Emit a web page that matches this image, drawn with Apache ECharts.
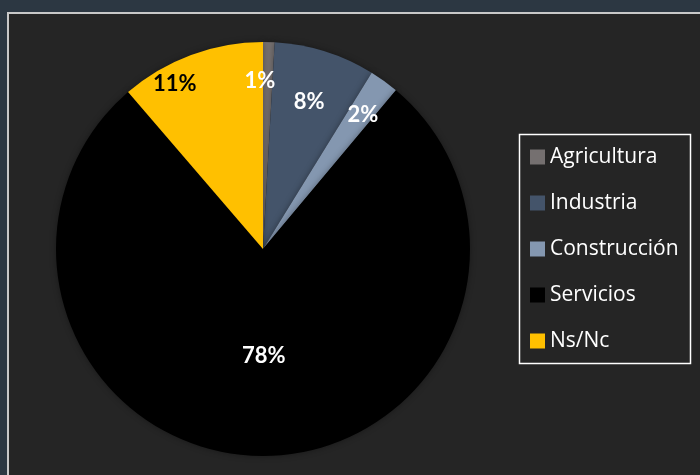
<!DOCTYPE html>
<html>
<head>
<meta charset="utf-8">
<script src="https://cdn.jsdelivr.net/npm/echarts@6/dist/echarts.min.js"></script>
<style>
  html, body { margin: 0; padding: 0; background: #2c3742; }
  #chart { width: 700px; height: 475px; }
</style>
</head>
<body>
<div id="chart"></div>
<script>
// Sectores de actividad
const categories = ['Agricultura', 'Industria', 'Construcción', 'Servicios', 'Ns/Nc'];
const shares = [0.9, 7.9, 2.3, 77.6, 11.3];
const colors = ['#757070', '#44546a', '#8497b0', '#000000', '#ffc000'];
const labelColors = ['#ffffff', '#ffffff', '#ffffff', '#ffffff', '#000000'];
// small nudges for the edge labels, in pixels
const labelNudge = [[-8, 2], [-5, 16], [0, 4], [0, 0], [-29, -5]];

const FONT = 'Lato, "Noto Sans", sans-serif';
const LEGEND_FONT = '"Open Sans", Lato, sans-serif';
const CENTER = [263, 249];
const R = 207;

const pct = p => Math.round(p.percent) + '%';
const labelBase = { fontFamily: FONT, fontSize: 22, fontWeight: 'bold' };

// Main pie: fills, with the large slice labelled at mid radius
const mainData = categories.map((name, i) => ({
  name,
  value: shares[i],
  itemStyle: { color: colors[i] },
  label: {
    show: name === 'Servicios',
    position: 'inside',
    color: labelColors[i],
    ...labelBase,
    formatter: pct
  }
}));

// Transparent ring: places the small-slice labels near the outer edge
const ringData = categories.map((name, i) => ({
  name,
  value: shares[i],
  itemStyle: { color: 'rgba(0,0,0,0)' },
  label: {
    show: name !== 'Servicios',
    position: 'inside',
    color: labelColors[i],
    ...labelBase,
    formatter: pct
  }
}));

const chart = echarts.init(document.getElementById('chart'), null, { renderer: 'canvas' });
chart.setOption({
  backgroundColor: '#2c3742',
  animation: false,
  graphic: [
    {
      type: 'rect',
      z: -10,
      shape: { x: 8, y: 13, width: 720, height: 500 },
      style: { fill: '#252525', stroke: '#c8c8c8', lineWidth: 2 }
    },
    {
      type: 'rect',
      z: -5,
      shape: { x: 519.5, y: 134.5, width: 171, height: 229 },
      style: { fill: 'none', stroke: '#ffffff', lineWidth: 1.5 }
    }
  ],
  legend: {
    orient: 'vertical',
    left: 519,
    top: 134,
    padding: [12, 10, 11, 11],
    icon: 'rect',
    itemWidth: 15,
    itemHeight: 15,
    itemGap: 24,
    data: categories,
    textStyle: { color: '#ffffff', fontFamily: LEGEND_FONT, fontSize: 21, lineHeight: 22 }
  },
  series: [
    {
      type: 'pie',
      center: CENTER,
      radius: [0, R],
      startAngle: 90,
      clockwise: true,
      avoidLabelOverlap: false,
      labelLine: { show: false },
      itemStyle: { shadowBlur: 6, shadowColor: 'rgba(0,0,0,0.35)' },
      emphasis: { disabled: true },
      data: mainData
    },
    {
      type: 'pie',
      silent: true,
      center: CENTER,
      radius: [128, R],
      startAngle: 90,
      clockwise: true,
      avoidLabelOverlap: false,
      labelLine: { show: false },
      emphasis: { disabled: true },
      labelLayout: p => ({ dx: labelNudge[p.dataIndex][0], dy: labelNudge[p.dataIndex][1] }),
      data: ringData
    }
  ]
});
</script>
</body>
</html>
